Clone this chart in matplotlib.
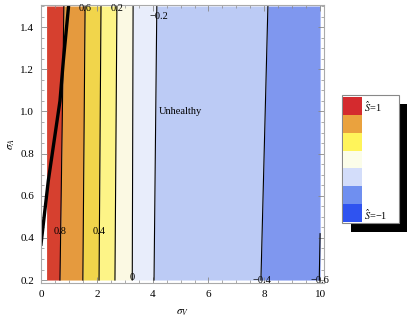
import numpy as np
import matplotlib
matplotlib.use("Agg")
import matplotlib.pyplot as plt
from matplotlib.patches import Rectangle

plt.rcParams['font.family'] = ['Liberation Serif', 'DejaVu Serif']
plt.rcParams['mathtext.fontset'] = 'stix'

# contour boundaries of S-hat, read at sigma_A = 0.2 (bottom) and 1.5 (top)
levels = [0.8, 0.6, 0.4, 0.2, 0, -0.2, -0.4]
x_bottom = [0.68, 1.50, 2.08, 2.65, 3.27, 4.05, 7.88]
x_top = [0.82, 1.58, 2.15, 2.72, 3.30, 4.15, 8.13]
level_labels = ["0.8", "0.6", "0.4", "0.2", "0", "\u22120.2", "\u22120.4"]
label_pos = [(0.68, 0.43), (1.58, 1.49), (2.10, 0.43), (2.73, 1.49),
             (3.26, 0.21), (4.22, 1.45), (7.92, 0.20)]
# the -0.6 contour only clips the bottom-right corner
neg06_x = [10.0, 9.97]
neg06_y = [0.42, 0.2]
band_colors = ["#d6402f", "#e59a3e", "#f1d54b", "#fdf487", "#fbf9e3",
               "#e8edfb", "#bccbf5", "#7f97ef"]

# thick boundary curve
curve_x = [0.0, 0.26, 0.68, 0.80, 1.01, 1.2]
curve_y = [0.37, 0.67, 1.05, 1.24, 1.53, 1.75]

legend_colors = ["#d42a2e", "#eaa23e", "#fff45a", "#fbfde9", "#d3ddfa",
                 "#6f8ff0", "#2f53f0"]

x_min, x_max = 0.2, 10.0
y_min, y_max = 0.2, 1.5

fig = plt.figure(figsize=(4.15, 3.27), dpi=100)
ax = fig.add_axes([41 / 415, 1 - 283 / 327, 283 / 415, 278 / 327])

ys = [y_min, y_max]
edges_lo = [[x_min, x_min]] + [[b, t] for b, t in zip(x_bottom, x_top)]
edges_hi = [[b, t] for b, t in zip(x_bottom, x_top)] + [[x_max, x_max]]
for lo, hi, c in zip(edges_lo, edges_hi, band_colors):
    ax.fill_betweenx(ys, lo, hi, color=c, lw=0)

for b, t in zip(x_bottom, x_top):
    ax.plot([b, t], ys, color="black", lw=0.8)
ax.plot(neg06_x, neg06_y, color="black", lw=0.8)

for lab, (lx, ly) in zip(level_labels, label_pos):
    ax.text(lx, ly, lab, fontsize=7.5, ha="center", va="center")
ax.text(10.0, 0.20, "\u22120.6", fontsize=7.5, ha="center", va="center")

ax.plot(curve_x, curve_y, color="black", lw=2.4)

ax.text(4.23, 1.0, "Unhealthy", fontsize=7.5, ha="left", va="center")

ax.set_xlim(0, 10.14)
ax.set_ylim(0.186, 1.505)
ax.set_xticks(np.arange(0, 11, 2))
ax.set_xticks(np.arange(0, 10.2, 0.5), minor=True)
ax.set_yticks(np.arange(0.2, 1.41, 0.2))
ax.set_yticks(np.arange(0.2, 1.51, 0.05), minor=True)
ax.set_yticklabels(["0.2", "0.4", "0.6", "0.8", "1.0", "1.2", "1.4"])
ax.tick_params(which="both", direction="in", top=True, right=True,
               color="#888888", labelsize=8, pad=5)
ax.tick_params(which="major", length=4, width=0.6)
ax.tick_params(which="minor", length=2, width=0.5)
for s in ax.spines.values():
    s.set_color("#aaaaaa")
    s.set_linewidth(0.8)
ax.set_xlabel(r"$\sigma_V$", fontsize=8, labelpad=6)
ax.set_ylabel(r"$\sigma_A$", fontsize=8, labelpad=2)

# legend box with shadow
lax = fig.add_axes([0, 0, 1, 1])
lax.set_xlim(0, 415)
lax.set_ylim(327, 0)
lax.axis("off")
lax.add_patch(Rectangle((351, 104), 56, 128, color="black", lw=0))
lax.add_patch(Rectangle((342, 95), 57, 128, facecolor="white",
                        edgecolor="#888888", lw=0.8))
row_h = 125 / len(legend_colors)
for i, c in enumerate(legend_colors):
    lax.add_patch(Rectangle((343, 97 + i * row_h), 19, row_h, color=c, lw=0))
lax.text(364, 107, r"$\hat{S}$=1", fontsize=7.5, va="center")
lax.text(364, 215, r"$\hat{S}$=" + "\u22121", fontsize=7.5, va="center")

fig.savefig("out.png", dpi=100)
